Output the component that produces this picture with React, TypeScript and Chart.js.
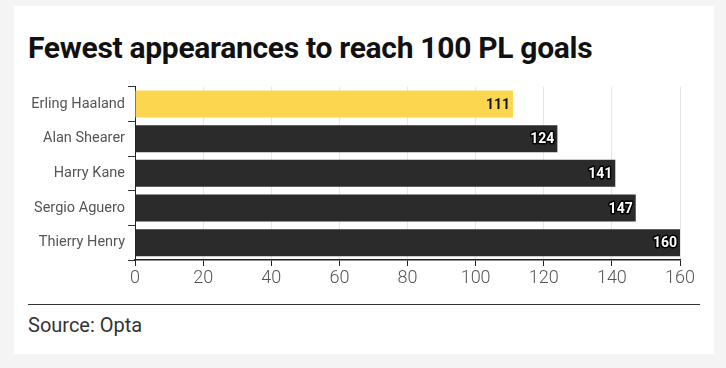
import React, { useEffect, useRef } from "react";
import { Chart, registerables } from "chart.js";

Chart.register(...registerables);

const players = ["Erling Haaland", "Alan Shearer", "Harry Kane", "Sergio Aguero", "Thierry Henry"];
const appearances = [111, 124, 141, 147, 160];
const barColors = ["#fdd64f", "#2b2b2b", "#2b2b2b", "#2b2b2b", "#2b2b2b"];
const titleText = "Fewest appearances to reach 100 PL goals";
const sourceText = "Source: Opta";

const valueLabels = {
  id: "valueLabels",
  afterDatasetsDraw(chart: any) {
    const ctx = chart.ctx;
    const meta = chart.getDatasetMeta(0);
    ctx.save();
    ctx.font = "bold 14px Roboto, 'Open Sans', sans-serif";
    ctx.textAlign = "right";
    ctx.textBaseline = "middle";
    ctx.lineJoin = "round";
    meta.data.forEach((bar: any, i: number) => {
      const text = String(appearances[i]);
      const x = bar.x - 3;
      const y = bar.y + 1;
      if (i === 0) {
        ctx.fillStyle = "#111";
        ctx.fillText(text, x, y);
      } else {
        ctx.strokeStyle = "#000";
        ctx.lineWidth = 3;
        ctx.strokeText(text, x, y);
        ctx.fillStyle = "#fff";
        ctx.fillText(text, x, y);
      }
    });
    ctx.restore();
  },
};

export default function App() {
  const ref = useRef<HTMLCanvasElement | null>(null);
  useEffect(() => {
    if (!ref.current) return;
    const chart = new Chart(ref.current, {
      type: "bar",
      data: {
        labels: players,
        datasets: [
          {
            data: appearances,
            backgroundColor: barColors,
            borderWidth: 0,
            categoryPercentage: 1,
            barPercentage: 0.78,
          },
        ],
      },
      options: {
        indexAxis: "y",
        animation: false,
        responsive: false,
        maintainAspectRatio: false,
        layout: { padding: { top: 10, right: 46, bottom: 0, left: 0 } },
        plugins: { legend: { display: false }, tooltip: { enabled: false }, title: { display: false } },
        scales: {
          x: {
            min: 0,
            max: 160,
            ticks: {
              stepSize: 20,
              color: "#555",
              font: { size: 18, family: "Roboto, 'Open Sans', sans-serif", weight: "300" },
              padding: 2,
            },
            grid: { color: "#e6e6e6", tickColor: "#222", tickLength: 6, drawOnChartArea: true },
            border: { display: true, color: "#222", width: 1.5 },
            afterFit: (s: any) => {
              s.height = 35;
            },
          },
          y: {
            ticks: {
              color: "#555",
              font: { size: 14.5, family: "Roboto, 'Open Sans', sans-serif" },
              padding: 3,
            },
            grid: { drawOnChartArea: false, tickColor: "#333", tickLength: 7 },
            border: { display: true, color: "#222", width: 1 },
            afterFit: (s: any) => {
              s.width = 135;
            },
          },
        },
      },
      plugins: [valueLabels],
    });
    return () => chart.destroy();
  }, []);

  return (
    <div style={{ position: "fixed", left: 0, top: 0, width: 726, height: 368, background: "#f4f4f4", overflow: "hidden" }}>
      <div style={{ position: "absolute", left: 14, top: 6, width: 700, height: 348, background: "#fff" }} />
      <div
        style={{
          position: "absolute",
          left: 28,
          top: 29,
          fontFamily: "Roboto, 'Open Sans', sans-serif",
          fontWeight: 700,
          fontSize: 30,
          lineHeight: "38px",
          color: "#111",
          letterSpacing: "-0.3px",
          whiteSpace: "nowrap",
        }}
      >
        {titleText}
      </div>
      <canvas ref={ref} width={726} height={220} style={{ position: "absolute", left: 0, top: 75, width: 726, height: 220 }} />
      <div style={{ position: "absolute", left: 28, top: 304, width: 672, height: 0, borderTop: "1px solid #333" }} />
      <div
        style={{
          position: "absolute",
          left: 28,
          top: 312,
          fontFamily: "Roboto, 'Open Sans', sans-serif",
          fontSize: 20,
          lineHeight: "26px",
          color: "#333",
          whiteSpace: "nowrap",
        }}
      >
        {sourceText}
      </div>
    </div>
  );
}
